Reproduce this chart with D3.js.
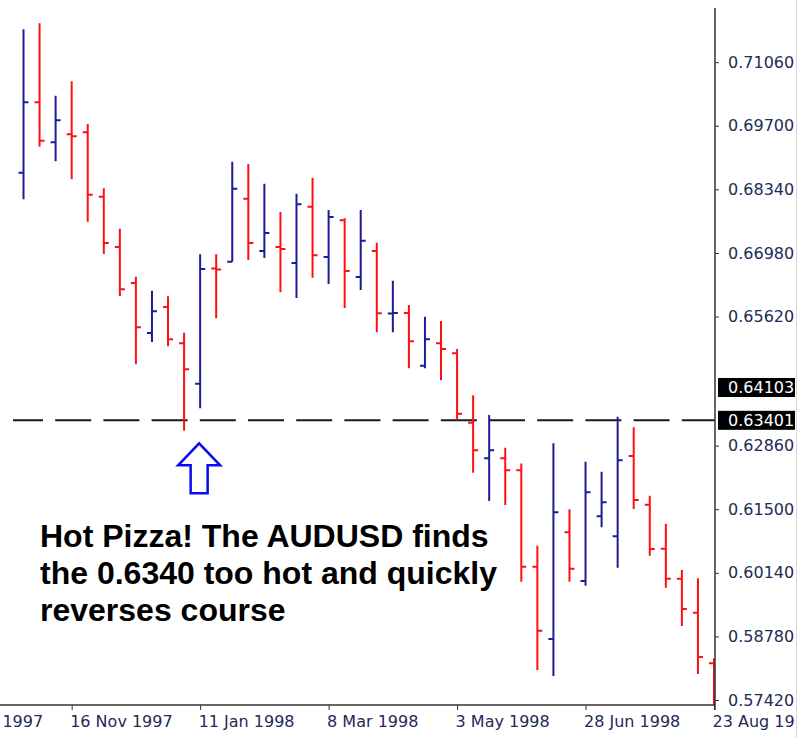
<!DOCTYPE html>
<head>
  <meta charset="utf-8">
  <style>
  body {
    margin: 0;
    background: #fff;
  }

  .axis text {
    font-family: "DejaVu Sans";
    font-size: 16px;
    fill: #232a58;
  }

  .axis line {
    stroke: #333;
  }

  .note {
    font-family: "Liberation Sans", Arial, sans-serif;
    font-weight: bold;
    font-size: 32px;
    fill: #000;
  }
  </style>
  <title>AUDUSD weekly</title>
</head>
<body>
  <svg width="799" height="738"></svg>
  <script src="https://d3js.org/d3.v7.min.js"></script>
  <script>
  // weekly AUDUSD bars, 26 Oct 1997 .. 23 Aug 1998
  var firstWeek = "1997-10-26",
      lastWeek = "1998-08-23";

  var opens = [0.68697, 0.70202, 0.69347, 0.69518, 0.69561, 0.68184, 0.67108, 0.66338, 0.65269, 0.65825,
               0.65048, 0.64184, 0.66648, 0.66793, 0.68141, 0.67022, 0.67108, 0.66766, 0.67970, 0.66894,
               0.67679, 0.66466, 0.67022, 0.65686, 0.65696, 0.64569, 0.65048, 0.64835, 0.63350, 0.62589,
               0.62589, 0.62334, 0.60271, 0.58725, 0.61006, 0.59965, 0.61349, 0.60921, 0.62638, 0.61597,
               0.60656, 0.60014, 0.59287, 0.58205];
  var highs = [0.71763, 0.71892, 0.70344, 0.70651, 0.69738, 0.68363, 0.67499, 0.66473, 0.66173, 0.66053,
               0.65275, 0.66952, 0.66952, 0.68932, 0.68883, 0.68462, 0.67856, 0.68248, 0.68583, 0.67899,
               0.67722, 0.67899, 0.67200, 0.66387, 0.65867, 0.65617, 0.65525, 0.64926, 0.63936, 0.63515,
               0.62816, 0.62478, 0.60720, 0.62910, 0.61498, 0.62516, 0.62302, 0.63479, 0.63252, 0.61789,
               0.61190, 0.60200, 0.60023, 0.58312];
  var lows = [0.68128, 0.69253, 0.68941, 0.68556, 0.67649, 0.66958, 0.66060, 0.64599, 0.65076, 0.64984,
              0.63179, 0.63658, 0.65583, 0.66793, 0.66830, 0.66873, 0.66139, 0.66017, 0.66451, 0.66317,
              0.65803, 0.66188, 0.65284, 0.65284, 0.64514, 0.64514, 0.64257, 0.63408, 0.62281, 0.61676,
              0.61590, 0.59950, 0.58062, 0.57933, 0.59950, 0.59864, 0.61113, 0.60249, 0.61505, 0.60506,
              0.59822, 0.59003, 0.57976, 0.57270];
  var closes = [0.70202, 0.69381, 0.69817, 0.69475, 0.68226, 0.67193, 0.66203, 0.65391, 0.65733, 0.65134,
                0.64492, 0.66637, 0.66627, 0.68355, 0.67193, 0.67407, 0.67065, 0.68021, 0.66930, 0.67749,
                0.66595, 0.67243, 0.65690, 0.65696, 0.65091, 0.65134, 0.64926, 0.63543, 0.62760, 0.62760,
                0.62334, 0.60271, 0.58902, 0.61434, 0.60228, 0.61862, 0.61648, 0.62546, 0.61697, 0.60649,
                0.60014, 0.59366, 0.58340, 0.57420];

  var dateTicks = ["1997-09-21", "1997-11-16", "1998-01-11", "1998-03-08", "1998-05-03", "1998-06-28", "1998-08-23"];
  var priceTicks = [0.57420, 0.58780, 0.60140, 0.61500, 0.62860, 0.65620, 0.66980, 0.68340, 0.69700, 0.71060];
  var markedPrices = [0.64103, 0.63401];
  var linePrice = 0.63401;
  var noteLines = ["Hot Pizza! The AUDUSD finds", "the 0.6340 too hot and quickly", "reverses course"];

  var svg = d3.select("svg"),
      width = +svg.attr("width"),
      height = +svg.attr("height");

  var plotRight = 715, plotTop = 10, plotBottom = 705;
  var parse = d3.utcParse("%Y-%m-%d");

  var weeks = d3.utcSunday.range(parse(firstWeek), d3.utcDay.offset(parse(lastWeek), 1));
  var bars = weeks.map(function(d, i) {
    return {date: d, o: opens[i], h: highs[i], l: lows[i], c: closes[i]};
  });

  var x = d3.scaleUtc()
      .domain([parse(firstWeek), parse(lastWeek)])
      .range([23.5, 714]);

  var y = d3.scaleLinear()
      .domain([0.57313, 0.72176])
      .range([plotBottom, plotTop]);

  svg.append("clipPath")
      .attr("id", "plot")
    .append("rect")
      .attr("x", 0)
      .attr("y", plotTop)
      .attr("width", plotRight)
      .attr("height", plotBottom - plotTop);

  svg.append("clipPath")
      .attr("id", "frame")
    .append("rect")
      .attr("x", 0)
      .attr("y", 0)
      .attr("width", width - 4)
      .attr("height", height);

  var plot = svg.append("g").attr("clip-path", "url(#plot)");

  // support line
  plot.append("line")
      .attr("x1", 13)
      .attr("x2", plotRight)
      .attr("y1", y(linePrice))
      .attr("y2", y(linePrice))
      .attr("stroke", "#1a1a1a")
      .attr("stroke-width", 2)
      .attr("stroke-dasharray", "36,12.2")
      .attr("stroke-dashoffset", 6);

  plot.selectAll("path.bar")
      .data(bars)
      .enter().append("path")
        .attr("class", "bar")
        .attr("fill", "none")
        .attr("stroke-width", 2)
        .attr("stroke", function(d) { return d.c >= d.o ? "#1c1c96" : "#ff1010"; })
        .attr("d", function(d) {
          var cx = x(d.date);
          return "M" + cx + "," + y(d.h) + "V" + y(d.l)
               + "M" + (cx - 5) + "," + y(d.o) + "H" + cx
               + "M" + cx + "," + y(d.c) + "H" + (cx + 5);
        });

  // axes
  var xAxis = svg.append("g")
      .attr("class", "axis")
      .attr("clip-path", "url(#frame)")
    .append("g")
      .attr("transform", "translate(0," + plotBottom + ")")
      .call(d3.axisBottom(x)
          .tickValues(dateTicks.map(parse))
          .tickFormat(d3.utcFormat("%-d %b %Y"))
          .tickSize(5));
  xAxis.select(".domain").remove();
  xAxis.selectAll("text")
      .attr("text-anchor", "start")
      .attr("x", -2)
      .attr("y", 11);

  var yAxis = svg.append("g")
      .attr("class", "axis")
      .attr("transform", "translate(" + plotRight + ",0)")
      .call(d3.axisRight(y)
          .tickValues(priceTicks)
          .tickFormat(d3.format(".5f"))
          .tickSize(4)
          .tickPadding(9));
  yAxis.select(".domain").remove();

  svg.append("line")
      .attr("x1", 0).attr("x2", plotRight)
      .attr("y1", plotBottom).attr("y2", plotBottom)
      .attr("stroke", "#333").attr("stroke-width", 1.5);
  svg.append("line")
      .attr("x1", plotRight).attr("x2", plotRight)
      .attr("y1", plotTop - 2).attr("y2", plotBottom + 5)
      .attr("stroke", "#333").attr("stroke-width", 1.5);
  svg.append("line")
      .attr("x1", width - 2.5).attr("x2", width - 2.5)
      .attr("y1", 0).attr("y2", height)
      .attr("stroke", "#d8d8d8");

  // price labels on the axis
  var marks = svg.selectAll("g.mark")
      .data(markedPrices)
      .enter().append("g")
        .attr("class", "mark")
        .attr("transform", function(d) { return "translate(718," + y(d) + ")"; });
  marks.append("rect")
      .attr("x", 0).attr("y", -9.5)
      .attr("width", 77).attr("height", 19)
      .attr("fill", "#000");
  marks.append("text")
      .attr("x", 10).attr("dy", "0.36em")
      .attr("fill", "#fff")
      .style("font-family", "DejaVu Sans")
      .style("font-size", "16px")
      .text(d3.format(".5f"));

  // arrow pointing at the low
  var ax = x(weeks[11]) - 1, ay = y(linePrice) + 23;
  svg.append("path")
      .attr("fill", "#fff")
      .attr("stroke", "#0a0aef")
      .attr("stroke-width", 2.5)
      .attr("stroke-linejoin", "miter")
      .attr("d", "M" + ax + "," + ay
           + "L" + (ax + 21) + "," + (ay + 22)
           + "H" + (ax + 8.5) + "V" + (ay + 50)
           + "H" + (ax - 8.5) + "V" + (ay + 22)
           + "H" + (ax - 21) + "Z");

  svg.selectAll("text.note")
      .data(noteLines)
      .enter().append("text")
        .attr("class", "note")
        .attr("x", 40)
        .attr("y", function(d, i) { return 547 + i * 37; })
        .text(function(d) { return d; });
  </script>
</body>
